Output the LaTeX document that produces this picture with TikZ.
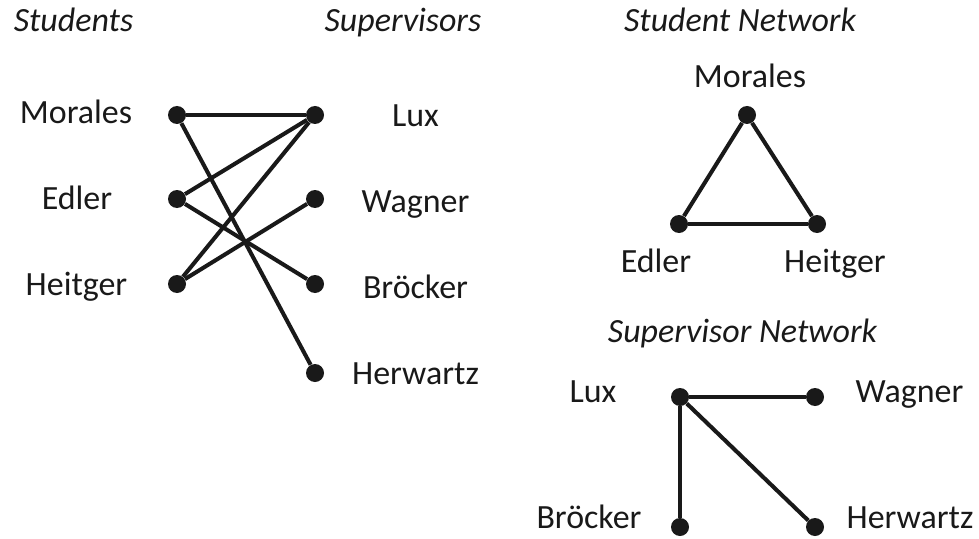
\documentclass[tikz,border=0pt]{standalone}
\usepackage{fontspec}
\setmainfont{Carlito}
\usepackage{xcolor}
\usetikzlibrary{positioning}
\definecolor{inkdark}{RGB}{25,25,25}

\begin{document}
\begin{tikzpicture}[
    dot/.style={circle, fill=inkdark, inner sep=0pt, minimum size=0.36cm},
    person/.style={anchor=base, inkdark, font=\fontsize{19.3}{23}\selectfont},
    head/.style={anchor=base, inkdark, font=\fontsize{19.3}{23}\selectfont\itshape},
    tie/.style={draw=inkdark, line width=2.3pt}]
        \useasboundingbox (0,0) rectangle (19.58,10.76);
        % Headings
        \node[head] (hStu) at (1.47,10.12) {Students};
        \node[head] (hSup) at (8.06,10.12) {Supervisors};
        \node[head] (hStuNet) at (14.80,10.12) {Student Network};
        \node[head] (hSupNet) at (14.85,3.92) {Supervisor Network};
        % Students and supervisors
        \node[dot] (sMor) at (3.54,8.46) {};
        \node[dot] (sEdl) at (3.54,6.78) {};
        \node[dot] (sHei) at (3.54,5.08) {};
        \node[dot] (vLux) at (6.30,8.46) {};
        \node[dot] (vWag) at (6.30,6.78) {};
        \node[dot] (vBro) at (6.30,5.08) {};
        \node[dot] (vHer) at (6.30,3.30) {};
        \node[person] (tsMor) at (1.52,8.28) {Morales};
        \node[person] (tsEdl) at (1.54,6.58) {Edler};
        \node[person] (tsHei) at (1.53,4.86) {Heitger};
        \node[person] (tvLux) at (8.31,8.22) {Lux};
        \node[person] (tvWag) at (8.31,6.52) {Wagner};
        \node[person] (tvBro) at (8.31,4.80) {Bröcker};
        \node[person] (tvHer) at (8.31,3.08) {Herwartz};
        \draw[tie] (sMor) -- (vLux);
        \draw[tie] (sMor) -- (vHer);
        \draw[tie] (sEdl) -- (vLux);
        \draw[tie] (sEdl) -- (vBro);
        \draw[tie] (sHei) -- (vLux);
        \draw[tie] (sHei) -- (vWag);
        % Student network
        \node[dot] (nMor) at (14.94,8.46) {};
        \node[dot] (nEdl) at (13.58,6.28) {};
        \node[dot] (nHei) at (16.34,6.28) {};
        \node[person] (tnMor) at (15.00,9.00) {Morales};
        \node[person] (tnEdl) at (13.12,5.32) {Edler};
        \node[person] (tnHei) at (16.70,5.32) {Heitger};
        \draw[tie] (nMor) -- (nEdl);
        \draw[tie] (nEdl) -- (nHei);
        \draw[tie] (nHei) -- (nMor);
        % Supervisor network
        \node[dot] (mLux) at (13.60,2.82) {};
        \node[dot] (mWag) at (16.30,2.82) {};
        \node[dot] (mBro) at (13.60,0.22) {};
        \node[dot] (mHer) at (16.30,0.22) {};
        \node[person] (tmLux) at (11.86,2.72) {Lux};
        \node[person] (tmWag) at (18.19,2.72) {Wagner};
        \node[person] (tmBro) at (11.78,0.20) {Bröcker};
        \node[person] (tmHer) at (18.20,0.20) {Herwartz};
        \draw[tie] (mLux) -- (mWag);
        \draw[tie] (mLux) -- (mBro);
        \draw[tie] (mLux) -- (mHer);
      \end{tikzpicture}
\end{document}
